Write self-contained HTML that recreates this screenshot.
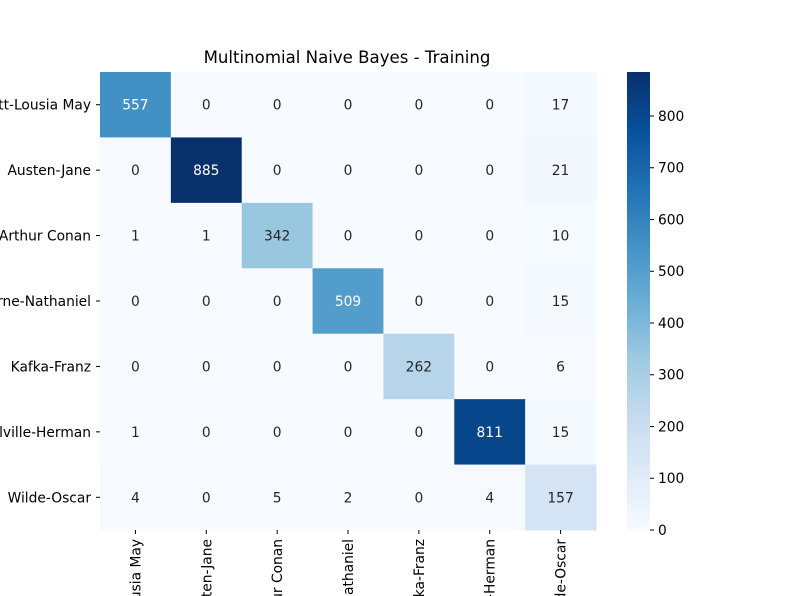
<!DOCTYPE html>
<html><head><meta charset="utf-8"><style>
html,body{margin:0;background:#fff;width:800px;height:596px;overflow:hidden;}
svg{display:block;overflow:hidden;}
svg text{font-family:"DejaVu Sans","Liberation Sans",sans-serif;}
</style></head><body>
<svg id="c" width="800" height="596" xmlns="http://www.w3.org/2000/svg">
<text x="347" y="63" font-size="16.6" text-anchor="middle">Multinomial Naive Bayes - Training</text>
<g id="cells"></g><g id="ylab"></g><g id="xlab"></g><g id="cbar"></g>
</svg>
<script>
const categories=["Alcott-Lousia May","Austen-Jane","Doyle-Arthur Conan","Hawthorne-Nathaniel","Kafka-Franz","Melville-Herman","Wilde-Oscar"];
const matrix=[[557,0,0,0,0,0,17],[0,885,0,0,0,0,21],[1,1,342,0,0,0,10],[0,0,0,509,0,0,15],[0,0,0,0,262,0,6],[1,0,0,0,0,811,15],[4,0,5,2,0,4,157]];
const cbarTicks=[0,100,200,300,400,500,600,700,800];
const NS="http://www.w3.org/2000/svg";
const X0=100,X1=596,Y0=72,Y1=530;
const FS=13.8;
const n=categories.length,cw=(X1-X0)/n,ch=(Y1-Y0)/n;
let vmax=0;matrix.forEach(r=>r.forEach(v=>vmax=Math.max(vmax,v)));
const stops=["#f7fbff","#deebf7","#c6dbef","#9ecae1","#6baed6","#4292c6","#2171b5","#08519c","#08306b"].map(h=>[1,3,5].map(i=>parseInt(h.substr(i,2),16)));
function blues(t){t=Math.max(0,Math.min(1,t))*8;const i=Math.min(7,Math.floor(t)),f=t-i;const a=stops[i],b=stops[i+1];return "rgb("+a.map((v,k)=>Math.round(v+(b[k]-v)*f)).join(",")+")";}
function el(t,a,p){const e=document.createElementNS(NS,t);for(const k in a)e.setAttribute(k,a[k]);p.appendChild(e);return e;}
const cells=document.getElementById("cells");
matrix.forEach((row,i)=>row.forEach((v,j)=>{
 const r=el("rect",{x:X0+j*cw,y:Y0+i*ch,width:cw+0.5,height:ch+0.5,fill:blues(v/vmax)},cells);
 
 
 const t=el("text",{x:X0+(j+.5)*cw,y:Y0+(i+.5)*ch+5,"font-size":FS,"text-anchor":"middle",fill:v/vmax>0.5?"#fff":"#262626"},cells);
 t.textContent=v;
 
 
}));
const yl=document.getElementById("ylab"),xl=document.getElementById("xlab");
categories.forEach((c,i)=>{
 const cy=Y0+(i+.5)*ch;
 el("line",{x1:X0-4,x2:X0,y1:cy,y2:cy,stroke:"#000"},yl);
 const t=el("text",{x:X0-9,y:cy+5,"font-size":FS,"text-anchor":"end"},yl);t.textContent=c;
 
 
 const cx=X0+(i+.5)*cw;
 el("line",{x1:cx,x2:cx,y1:Y1,y2:Y1+4,stroke:"#000"},xl);
 const u=el("text",{x:0,y:0,"font-size":FS,"text-anchor":"end",transform:`translate(${cx+5},${Y1+9}) rotate(-90)`},xl);u.textContent=c;
 
 
});
const cb=document.getElementById("cbar");
const CX=627,CW=23;
for(let k=0;k<200;k++){const y=Y0+(Y1-Y0)*k/200;el("rect",{x:CX,y:y,width:CW,height:(Y1-Y0)/200+0.6,fill:blues(1-k/200)},cb);}
cbarTicks.forEach(v=>{
 const y=Y1-v/vmax*(Y1-Y0);
 el("line",{x1:CX+CW,x2:CX+CW+4,y1:y,y2:y,stroke:"#000"},cb);
 const t=el("text",{x:CX+CW+8,y:y+5,"font-size":FS},cb);t.textContent=v;
 
 
});
</script>
</body></html>
